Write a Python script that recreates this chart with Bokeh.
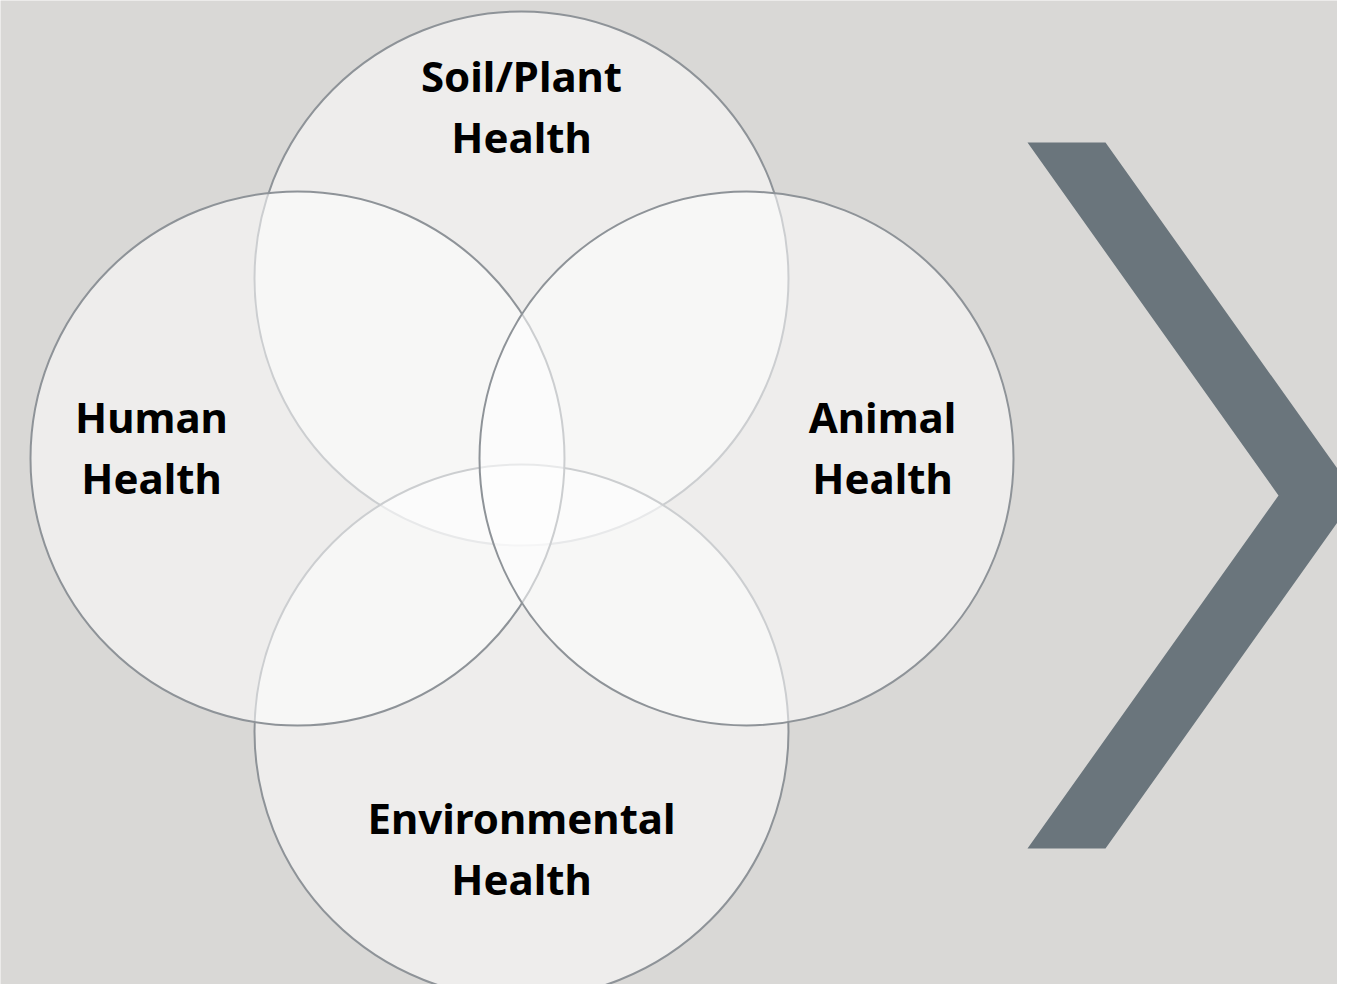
from bokeh.plotting import figure
from bokeh.models import Range1d, ColumnDataSource
from bokeh.core.properties import value
from bokeh.embed import file_html
from bokeh.resources import INLINE

# Diagram data (reference pixel space)
names = ["Soil/Plant", "Environmental", "Human", "Animal"]
circle_x = [521, 521, 297, 746]
circle_y = [278, 731, 458, 458]
circle_r = [267, 267, 267, 267]

label_line1 = ["Soil/Plant", "Environmental", "Human", "Animal"]
label_line2 = ["Health", "Health", "Health", "Health"]
label_x = [521, 521, 151, 882]
label_y1 = [75, 817, 416, 416]
label_y2 = [136, 878, 477, 477]

chevron_x = [1027, 1105, 1356, 1105, 1027, 1278]
chevron_y = [142, 142, 495, 848, 848, 495]

BG = "#d9d8d6"

p = figure(width=1337, height=984, output_backend="svg", toolbar_location=None,
           x_range=Range1d(0, 1337), y_range=Range1d(984, 0),
           min_border=0, min_border_left=0, min_border_right=0,
           min_border_top=0, min_border_bottom=0)
p.background_fill_color = BG
p.border_fill_color = BG
p.outline_line_color = None
p.axis.visible = False
p.grid.visible = False

for cx, cy, r in zip(circle_x, circle_y, circle_r):
    p.circle(x=[cx], y=[cy], radius=r, fill_color="white", fill_alpha=0.55,
             line_color="#8e9398", line_width=2)

p.patch(chevron_x, chevron_y, fill_color="#6a757c", line_color=None)

src = ColumnDataSource(dict(x=label_x + label_x, y=label_y1 + label_y2,
                            t=label_line1 + label_line2))
p.text(x="x", y="y", text="t", source=src, text_align="center",
       text_baseline="middle", text_font=value("Noto Sans"),
       text_font_style="bold", text_font_size="42px", text_color="#000000")

open("out.html", "w").write(file_html(p, INLINE))
